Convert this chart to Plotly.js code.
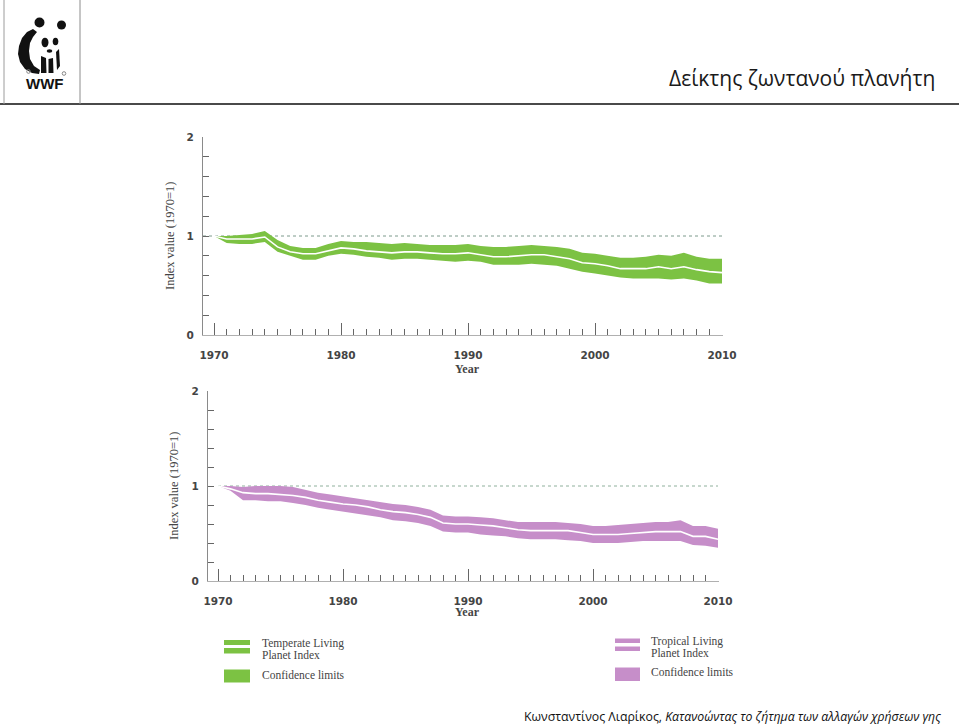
<!DOCTYPE html>
<html><head><meta charset="utf-8">
<script src="https://cdn.plot.ly/plotly-3.0.1.min.js"></script>
<style>html,body{margin:0;padding:0;background:#fff;} #chart{width:959px;height:725px;}</style>
</head><body><div id="chart"></div>
<script>
// ---------------- DATA ----------------
const years = [1970,1971,1972,1973,1974,1975,1976,1977,1978,1979,1980,1981,1982,1983,1984,1985,1986,1987,1988,1989,1990,
               1991,1992,1993,1994,1995,1996,1997,1998,1999,2000,2001,2002,2003,2004,2005,2006,2007,2008,2009,2010];

const temperateIndex = [1.00,0.97,0.97,0.97,0.99,0.89,0.84,0.82,0.82,0.85,0.88,0.87,0.85,0.84,0.83,0.84,0.84,0.83,0.82,0.82,0.83,
                        0.81,0.79,0.79,0.80,0.81,0.81,0.79,0.77,0.73,0.72,0.70,0.67,0.67,0.67,0.69,0.67,0.69,0.66,0.64,0.63];
const temperateUpper = [1.00,1.00,1.01,1.02,1.05,0.96,0.90,0.88,0.88,0.92,0.95,0.94,0.94,0.93,0.92,0.93,0.92,0.91,0.91,0.91,0.92,
                        0.90,0.89,0.89,0.90,0.91,0.90,0.89,0.87,0.83,0.82,0.80,0.78,0.78,0.79,0.81,0.80,0.83,0.79,0.77,0.77];
const temperateLower = [1.00,0.93,0.92,0.92,0.94,0.84,0.80,0.76,0.76,0.80,0.82,0.81,0.79,0.78,0.76,0.77,0.77,0.76,0.75,0.74,0.75,
                        0.74,0.71,0.71,0.71,0.72,0.71,0.70,0.67,0.64,0.62,0.60,0.58,0.57,0.57,0.57,0.56,0.57,0.55,0.52,0.52];

const tropicalIndex = [1.00,0.97,0.93,0.92,0.92,0.91,0.90,0.88,0.85,0.83,0.81,0.80,0.78,0.75,0.73,0.72,0.70,0.67,0.61,0.60,0.60,
                       0.59,0.58,0.56,0.54,0.53,0.53,0.53,0.53,0.51,0.49,0.49,0.49,0.50,0.51,0.52,0.52,0.52,0.47,0.47,0.44];
const tropicalUpper = [1.00,1.00,0.99,1.00,1.00,1.00,0.99,0.96,0.93,0.91,0.89,0.87,0.85,0.83,0.81,0.80,0.78,0.75,0.69,0.68,0.68,
                       0.67,0.66,0.64,0.62,0.62,0.62,0.62,0.61,0.60,0.58,0.58,0.59,0.60,0.61,0.62,0.62,0.64,0.58,0.58,0.55];
const tropicalLower = [1.00,0.95,0.85,0.85,0.84,0.84,0.82,0.80,0.77,0.75,0.73,0.71,0.69,0.67,0.64,0.63,0.61,0.58,0.52,0.51,0.51,
                       0.49,0.48,0.47,0.45,0.44,0.44,0.44,0.43,0.42,0.40,0.40,0.40,0.41,0.42,0.42,0.42,0.42,0.38,0.37,0.35];

const referenceValue = 1;
const xTickVals = [1970,1980,1990,2000,2010];
const xTickText = ['1970','1980','1990','2000','2010'];
const yTickVals = [0,0.2,0.4,0.6,0.8,1,1.2,1.4,1.6,1.8,2];
const yTickText = ['0','','','','','1','','','','','2'];

const pageTitle = 'Δείκτης ζωντανού πλανήτη';
const footerAuthor = 'Κωνσταντίνος Λιαρίκος, ';
const footerWork = 'Κατανοώντας το ζήτημα των αλλαγών χρήσεων γης';
const yTitle = 'Index value (1970=1)';
const xTitle = 'Year';
const legendTemperate = ['Temperate Living', 'Planet Index'];
const legendTropical = ['Tropical Living', 'Planet Index'];
const legendConf = 'Confidence limits';

// ---------------- STYLE ----------------
const W = 959, H = 725;
const px = x => x / W;
const py = y => 1 - y / H;
const GREEN = '#7cc243';
const PURPLE = '#c68ec9';
const AXIS = '#8a8a8a';
const TICK = '#666666';
const tickFont = {family: 'DejaVu Sans', size: 10.5, color: '#444', weight: 'bold'};
const serif = 'Liberation Serif';

function bandTraces(lower, upper, center, color, xa, ya) {
  return [
    {x: years, y: lower, type: 'scatter', mode: 'lines', line: {width: 0, color: color}, xaxis: xa, yaxis: ya, hoverinfo: 'skip', showlegend: false},
    {x: years, y: upper, type: 'scatter', mode: 'lines', line: {width: 0, color: color}, fill: 'tonexty', fillcolor: color, xaxis: xa, yaxis: ya, hoverinfo: 'skip', showlegend: false},
    {x: years, y: center, type: 'scatter', mode: 'lines', line: {width: 1.6, color: '#ffffff'}, xaxis: xa, yaxis: ya, hoverinfo: 'skip', showlegend: false}
  ];
}

const data = [
  ...bandTraces(temperateLower, temperateUpper, temperateIndex, GREEN, 'x', 'y'),
  ...bandTraces(tropicalLower, tropicalUpper, tropicalIndex, PURPLE, 'x2', 'y2')
];

function xAxis(leftPx, px1970, px2010) {
  const perYear = (px2010 - px1970) / (xTickVals[xTickVals.length-1] - xTickVals[0]);
  const r0 = xTickVals[0] - (px1970 - leftPx) / perYear;
  const r1 = xTickVals[xTickVals.length-1] + 0.05;
  return {
    domain: [px(leftPx), px(px2010 + 0.05 * perYear)],
    range: [r0, r1],
    showline: true, linecolor: '#b0b0b0', linewidth: 1,
    ticks: 'inside', ticklen: 12, tickwidth: 1, tickcolor: TICK,
    tickmode: 'array', tickvals: xTickVals, ticktext: xTickText,
    minor: {ticks: 'inside', ticklen: 6, tickwidth: 1, tickcolor: TICK, dtick: 1, tick0: xTickVals[0], showgrid: false},
    tickfont: tickFont, ticklabelstandoff: 10,
    showgrid: false, zeroline: false, fixedrange: true
  };
}
function yAxis(anchor, bottomPx, topPx) {
  return {
    anchor: anchor,
    domain: [py(bottomPx), py(topPx)],
    range: [0, 2],
    showline: true, linecolor: AXIS, linewidth: 1,
    ticks: 'inside', ticklen: 6, tickwidth: 1, tickcolor: TICK,
    tickmode: 'array', tickvals: yTickVals, ticktext: yTickText,
    tickfont: tickFont, ticklabelstandoff: 6,
    showgrid: false, zeroline: false, fixedrange: true
  };
}

const xa1 = xAxis(203, 214, 722); xa1.anchor = 'y';
const xa2 = xAxis(208, 218, 718); xa2.anchor = 'y2';

const shapes = [];
const annotations = [];

// reference dotted lines at index value 1
shapes.push({type: 'line', layer: 'below', xref: 'x domain', yref: 'y', x0: 0, x1: 1, y0: referenceValue, y1: referenceValue, line: {color: '#7d9a8c', width: 1, dash: 'dot'}});
shapes.push({type: 'line', layer: 'below', xref: 'x2', yref: 'y2', x0: years[0], x1: years[years.length-1], y0: referenceValue, y1: referenceValue, line: {color: '#8fb09c', width: 1, dash: 'dot'}});

// axis titles
function ann(text, x, y, opts) {
  annotations.push(Object.assign({text: text, xref: 'paper', yref: 'paper', x: px(x), y: py(y), showarrow: false,
    xanchor: 'center', yanchor: 'middle'}, opts));
}
ann(xTitle, 467, 369, {font: {family: serif, size: 12, color: '#444', weight: 'bold'}});
ann(xTitle, 467, 612, {font: {family: serif, size: 12, color: '#444', weight: 'bold'}});
ann(yTitle, 170, 236, {textangle: -90, font: {family: serif, size: 12.5, color: '#444'}});
ann(yTitle, 174, 486, {textangle: -90, font: {family: serif, size: 12.5, color: '#444'}});

// legends
function rect(x0, y0, x1, y1, color) {
  shapes.push({type: 'rect', xref: 'paper', yref: 'paper', x0: px(x0), x1: px(x1), y0: py(y1), y1: py(y0), fillcolor: color, line: {width: 0}});
}
rect(224, 640, 250, 645, GREEN); rect(224, 648, 250, 653.5, GREEN); rect(224, 669.5, 250, 682.5, GREEN);
rect(615, 638.5, 640, 643, PURPLE); rect(615, 646.5, 640, 651, PURPLE); rect(615, 667.5, 640, 681, PURPLE);
const legFont = {family: serif, size: 11.5, color: '#444'};
ann(legendTemperate[0], 260, 643, {xanchor: 'left', font: legFont});
ann(legendTemperate[1], 260, 655, {xanchor: 'left', font: legFont});
ann(legendConf, 260, 675, {xanchor: 'left', font: legFont});
ann(legendTropical[0], 649, 641, {xanchor: 'left', font: legFont});
ann(legendTropical[1], 649, 652.5, {xanchor: 'left', font: legFont});
ann(legendConf, 649, 672, {xanchor: 'left', font: legFont});

// header frame
function line(x0, y0, x1, y1, color, width) {
  shapes.push({type: 'line', xref: 'paper', yref: 'paper', x0: px(x0), x1: px(x1), y0: py(y0), y1: py(y1), line: {color: color, width: width}});
}
line(0, 104, 959, 104, '#4a4a4a', 2);
line(80, 0, 80, 104, '#8c8c8c', 1);
line(4, 0, 4, 104, '#9c9c9c', 1);

// WWF panda logo (approximation)
function ell(cx, cy, rx, ry, color, outline) {
  shapes.push({type: 'circle', xref: 'paper', yref: 'paper', x0: px(cx - rx), x1: px(cx + rx), y0: py(cy + ry), y1: py(cy - ry),
    fillcolor: outline ? 'rgba(0,0,0,0)' : color, line: {width: outline ? 1 : 0, color: color}});
}
function poly(pts, color) {
  let d = '';
  pts.forEach((p, i) => { d += (i ? ' L ' : 'M ') + px(p[0]) + ',' + py(p[1]); });
  shapes.push({type: 'path', xref: 'paper', yref: 'paper', path: d + ' Z', fillcolor: color, line: {width: 0}});
}
ell(39.5, 22.5, 5, 5, '#111');
ell(61.5, 25, 4.5, 4.5, '#111');
poly([[33,29],[27,32],[22,38],[19,46],[18,54],[20,62],[25,69],[32,73],[39,74],[40,70],[34,66],[30,59],[29,51],[30,43],[33,37],[37,32]], '#111');
ell(45, 42.5, 3.5, 4.8, '#111');
ell(55.5, 41.5, 2.8, 3.8, '#111');
ell(49.5, 51, 2.8, 1.8, '#111');
poly([[41,56],[46,58],[46.5,73],[41,73]], '#111');
poly([[48.5,59],[53,58],[53.5,73],[48.5,73]], '#111');
poly([[56,52],[59,49],[60,66],[57,70]], '#111');
ell(28.5, 71.5, 1.8, 1.8, '#888', true);
ell(64, 73.5, 1.8, 1.8, '#888', true);
ann('WWF', 44, 84, {font: {family: 'Liberation Sans', size: 15, color: '#111', weight: 900}});

// title & footer
ann(pageTitle, 937, 78, {xanchor: 'right', font: {family: 'Open Sans', size: 21, color: '#1a1a1a'}});
ann(footerAuthor + '<i>' + footerWork + '</i>', 943, 716, {xanchor: 'right', font: {family: 'Open Sans', size: 12.3, color: '#111'}});

const layout = {
  width: W, height: H,
  margin: {l: 0, r: 0, t: 0, b: 0},
  paper_bgcolor: '#ffffff', plot_bgcolor: 'rgba(0,0,0,0)',
  showlegend: false,
  xaxis: xa1, yaxis: yAxis('x', 335, 137),
  xaxis2: xa2, yaxis2: yAxis('x2', 581, 391),
  shapes: shapes, annotations: annotations
};

Plotly.newPlot('chart', data, layout, {displayModeBar: false, staticPlot: true});
</script>
</body></html>
